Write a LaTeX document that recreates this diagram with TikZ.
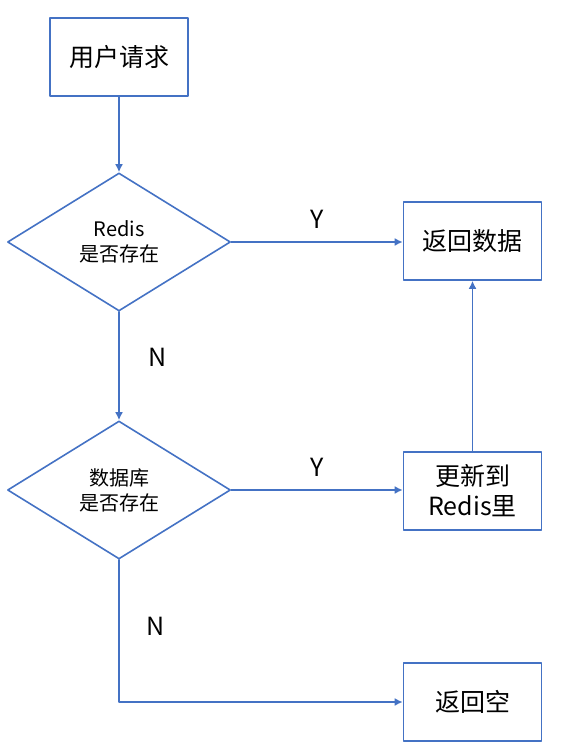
\documentclass[tikz,border=0pt]{standalone}
\usepackage{fontspec}
\newfontfamily\cjk{Noto Sans CJK SC}
\usetikzlibrary{shapes.geometric,arrows.meta}
\definecolor{lineblue}{RGB}{68,114,196}
\begin{document}
\begin{tikzpicture}[x=1pt,y=-1pt,line cap=round,line join=round,font=\cjk,>={Latex[length=8pt,width=8pt]},
	box/.style={draw=lineblue,line width=1.6pt,minimum width=138pt,minimum height=78pt,inner sep=0pt,align=center,font=\cjk\fontsize{25}{30}\selectfont},
	test/.style={diamond,draw=lineblue,line width=1.6pt,minimum width=223pt,minimum height=138pt,inner sep=0pt,align=center,font=\cjk\fontsize{20}{25}\selectfont},
	flow/.style={draw=lineblue,line width=1.6pt,->},
	lab/.style={font=\cjk\fontsize{25}{25}\selectfont}]
	\useasboundingbox (0,0) rectangle (561,751);
	\node[box] (req) at (119,57) {用户请求};
	\node[test] (redis) at (119,242) {Redis\\是否存在};
	\node[test] (db) at (119,490) {数据库\\是否存在};
	\node[box] (ret) at (472.5,241) {返回数据};
	\node[box] (upd) at (472.5,491) {更新到\\Redis里};
	\node[box] (nil) at (472.5,702) {返回空};
	\coordinate (corner) at (db.south |- nil.west);
	\draw[flow] (req)--(redis);
	\draw[flow] (redis.east)--(redis.east -| ret.west) node[lab,pos=0.5,above=9pt] {Y};
	\draw[flow] (redis)--(db) node[lab,pos=0.42,right=25pt] {N};
	\draw[flow] (db.east)--(db.east -| upd.west) node[lab,pos=0.5,above=9pt] {Y};
	\draw[flow] (upd)--(ret);
	\draw[flow] (db.south)--(corner)--(nil.west);
	\node[lab] (no) at (156,626) {N};
\end{tikzpicture}
\end{document}
